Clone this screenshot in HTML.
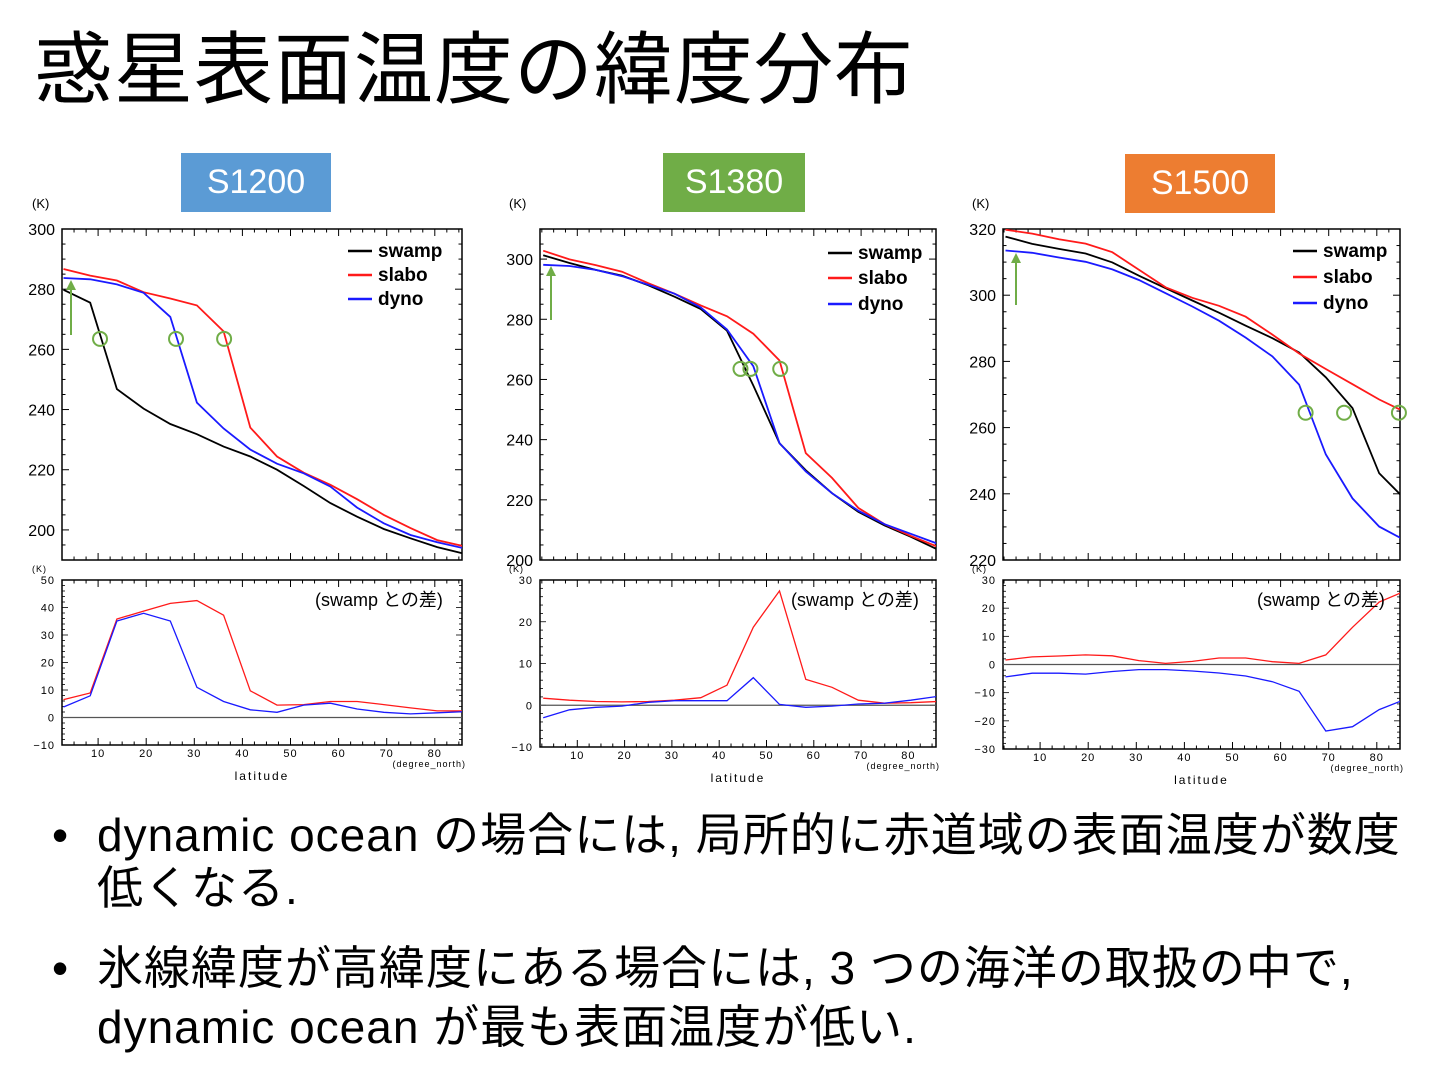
<!DOCTYPE html>
<html><head><meta charset="utf-8">
<style>
body{margin:0;background:#fff;width:1440px;height:1080px;overflow:hidden;font-family:"Liberation Sans","Noto Sans CJK JP",sans-serif;}
#title{position:absolute;left:34px;top:30px;font-size:79px;line-height:80px;color:#000;font-family:"Liberation Sans","Noto Sans CJK JP",sans-serif;white-space:nowrap;letter-spacing:1px}
.tag{position:absolute;color:#fff;font-size:34px;text-align:center;line-height:59px;height:59px}
.bl{position:absolute;left:52px;font-size:46px;line-height:46px;color:#000;white-space:nowrap;letter-spacing:1px}
.bl span.d{position:absolute;left:0}
.bl span.t{position:absolute;left:45px}
</style></head><body>
<div id="title">惑星表面温度の緯度分布</div>
<div class="tag" style="left:181px;top:153px;width:150px;background:#5b9bd5">S1200</div>
<div class="tag" style="left:663px;top:153px;width:142px;background:#70ad47">S1380</div>
<div class="tag" style="left:1125px;top:154px;width:150px;background:#ed7d31">S1500</div>
<svg id="chart" width="1440" height="1080" style="position:absolute;left:0;top:0" xmlns="http://www.w3.org/2000/svg"></svg>
<div class="bl" style="top:812px"><span class="d">•</span><span class="t">dynamic ocean の場合には, 局所的に赤道域の表面温度が数度</span></div>
<div class="bl" style="top:865px"><span class="t">低くなる.</span></div>
<div class="bl" style="top:945px"><span class="d">•</span><span class="t">氷線緯度が高緯度にある場合には, 3 つの海洋の取扱の中で,</span></div>
<div class="bl" style="top:1004px"><span class="t">dynamic ocean が最も表面温度が低い.</span></div>
<script>
const lats=[2.8,8.35,13.9,19.45,25,30.55,36.1,41.65,47.2,52.75,58.3,63.85,69.4,74.95,80.5,86.05];
const xTicks=[10,20,30,40,50,60,70,80];
const seriesNames=["swamp","slabo","dyno"];
const p1Swamp=[279.8,275.5,246.8,240.3,235.2,231.8,227.7,224.4,220,214.6,208.9,204.4,200.3,197.2,194.3,192.1];
const p1Slabo=[286.7,284.5,282.9,279,276.9,274.6,266,234,224.4,219,215,210.2,205,200.6,196.6,194.6];
const p1Dyno=[283.7,283.3,281.6,278.8,270.8,242.3,233.7,226.7,222,218.8,214.4,207.4,202.2,198.3,195.9,193.9];
const p1DiffSlabo=[6.5,8.9,35.8,38.7,41.5,42.5,37.2,9.7,4.5,4.7,5.8,5.8,4.7,3.5,2.4,2.4];
const p1DiffDyno=[3.8,7.9,35.1,37.9,35.1,11,5.8,2.8,1.9,4.5,5.2,3.1,1.9,1.3,1.7,2.1];
const p2Swamp=[301.3,298.7,296.4,294.5,291.3,287.5,283.4,276.2,258,238.8,229.8,222.2,216,211.5,207.7,203.6];
const p2Slabo=[302.8,299.9,298,295.8,292,288.5,284.6,281,275.2,266.3,235.5,227.3,217.3,211.9,208,204.5];
const p2Dyno=[298.1,297.7,296.4,294.3,291.5,288.5,283.9,276.6,264.4,238.8,229.4,222.2,216.4,211.9,208.7,205.5];
const p2DiffSlabo=[1.7,1.2,0.9,0.8,0.9,1.2,1.8,4.8,18.7,27.4,6.2,4.3,1.2,0.5,0.6,0.9];
const p2DiffDyno=[-3.0,-1.1,-0.5,-0.2,0.7,1.1,1.1,1.1,6.6,0.2,-0.5,-0.2,0.3,0.5,1.2,2.1];
const p3Swamp=[317.7,315.5,314,312.6,309.9,305.9,302.1,298.4,294.7,290.8,287,282.7,275.2,265.9,246.2,238.1];
const p3Slabo=[319.8,318.6,316.9,315.6,313,307.7,302.4,299.2,296.8,293.5,288.1,282.4,277.7,273.1,268.5,264.6];
const p3Dyno=[313.5,312.8,311.4,310.1,307.8,304.6,300.6,296.6,292.3,287.2,281.5,273,251.9,238.6,230.1,225.8];
const p3DiffSlabo=[1.6,2.7,3,3.4,3.1,1.4,0.4,1.1,2.3,2.3,1,0.4,3.4,13.2,22.2,26.2];
const p3DiffDyno=[-4.4,-3.1,-3.1,-3.4,-2.5,-1.8,-1.8,-2.3,-3,-4.1,-6.1,-9.5,-23.6,-22.1,-16,-12.3];
const p1TopTicks=[300,280,260,240,220,200];
const p2TopTicks=[300,280,260,240,220,200];
const p3TopTicks=[320,300,280,260,240,220];
const p1BotTicks=[50,40,30,20,10,0,-10];
const p2BotTicks=[30,20,10,0,-10];
const p3BotTicks=[30,20,10,0,-10,-20,-30];
const iceLat1=[10.4,26.2,36.2];
const iceLat2=[44.5,46.6,52.9];
const iceLat3=[65.2,73.2,84.6];

const NS="http://www.w3.org/2000/svg";
const svg=document.getElementById('chart');
function mk(tag,attrs,parent){const e=document.createElementNS(NS,tag);for(const k in attrs)e.setAttribute(k,attrs[k]);(parent||svg).appendChild(e);return e;}
const colors={swamp:"#000",slabo:"#ff1a1a",dyno:"#1a1aff"};

const panels=[
 {id:"p1",x0:62,x1:462,xo:50,pd:4.81,tY0:229,tY1:560,tMin:190,tMax:300,tMinor:5,tt:p1TopTicks,bY0:580,bY1:745,bMin:-10,bMax:50,bt:p1BotTicks,
  top:[p1Swamp,p1Slabo,p1Dyno],diff:[p1DiffSlabo,p1DiffDyno],ice:[[iceLat1[0]],[iceLat1[1]],[iceLat1[2]]],iceT:263.5,arrow:[71,335,280],kx:32,legX:348,legY:[251,275,299],swX:315},
 {id:"p2",x0:540,x1:936,xo:530,pd:4.73,tY0:229,tY1:560,tMin:200,tMax:310,tMinor:5,tt:p2TopTicks,bY0:580,bY1:747,bMin:-10,bMax:30,bt:p2BotTicks,
  top:[p2Swamp,p2Slabo,p2Dyno],diff:[p2DiffSlabo,p2DiffDyno],ice:[[iceLat2[0]],[iceLat2[1]],[iceLat2[2]]],iceT:263.5,arrow:[551,320,266],kx:509,legX:828,legY:[253,278,304],swX:791},
 {id:"p3",x0:1003,x1:1400,xo:992,pd:4.81,tY0:229,tY1:560,tMin:220,tMax:320,tMinor:5,tt:p3TopTicks,bY0:580,bY1:749,bMin:-30,bMax:30,bt:p3BotTicks,
  top:[p3Swamp,p3Slabo,p3Dyno],diff:[p3DiffSlabo,p3DiffDyno],ice:[[iceLat3[0]],[iceLat3[1]],[iceLat3[2]]],iceT:264.5,arrow:[1016,305,253],kx:972,legX:1293,legY:[251,277,303],swX:1257}
];

panels.forEach(p=>{
  const g=mk('g',{});
  
  
  const xs=v=>p.xo+v*p.pd;
  const ty=v=>p.tY1-(v-p.tMin)/(p.tMax-p.tMin)*(p.tY1-p.tY0);
  const by=v=>p.bY1-(v-p.bMin)/(p.bMax-p.bMin)*(p.bY1-p.bY0);
  const cid='clip'+p.id;
  const defs=mk('defs',{},g);
  const c1=mk('clipPath',{id:cid+'t'},defs);mk('rect',{x:p.x0,y:p.tY0,width:p.x1-p.x0,height:p.tY1-p.tY0},c1);
  const c2=mk('clipPath',{id:cid+'b'},defs);mk('rect',{x:p.x0,y:p.bY0,width:p.x1-p.x0,height:p.bY1-p.bY0},c2);
  [[p.tY0,p.tY1],[p.bY0,p.bY1]].forEach(([a,b],k)=>{
    const r=mk('rect',{x:p.x0,y:a,width:p.x1-p.x0,height:b-a,fill:'none',stroke:'#000','stroke-width':1.5},g);
    
    
    for(let l=0;l<=90;l+=2.5){const x=xs(l);if(x<=p.x0||x>=p.x1)continue;const len=(l%10===0)?7:3.5;
      mk('line',{x1:x,x2:x,y1:a,y2:a+len,stroke:'#000','stroke-width':1},g);mk('line',{x1:x,x2:x,y1:b,y2:b-len,stroke:'#000','stroke-width':1},g);}
  });
  for(let v=p.tMin;v<=p.tMax;v+=p.tMinor){const y=ty(v);const len=(v%20===0)?7:3.5;
    mk('line',{x1:p.x0,x2:p.x0+len,y1:y,y2:y,stroke:'#000'},g);mk('line',{x1:p.x1,x2:p.x1-len,y1:y,y2:y,stroke:'#000'},g);}
  p.tt.forEach(v=>{const t=mk('text',{x:p.x0-7,y:ty(v)+6,'text-anchor':'end','font-size':16,fill:'#000'},g);t.textContent=v;
    });
  for(let v=p.bMin;v<=p.bMax;v+=2){const y=by(v);const len=(v%10===0)?6:3;
    mk('line',{x1:p.x0,x2:p.x0+len,y1:y,y2:y,stroke:'#000','stroke-width':0.8},g);mk('line',{x1:p.x1,x2:p.x1-len,y1:y,y2:y,stroke:'#000','stroke-width':0.8},g);}
  p.bt.forEach(v=>{const t=mk('text',{x:p.x0-7,y:by(v)+4,'text-anchor':'end','font-size':11,'letter-spacing':1,fill:'#000'},g);t.textContent=(v<0?'−':'')+Math.abs(v);
    });
  xTicks.forEach(v=>{const t=mk('text',{x:xs(v),y:p.bY1+12,'text-anchor':'middle','font-size':11,'letter-spacing':1,fill:'#000'},g);t.textContent=v;
    });
  let t=mk('text',{x:p.kx,y:208,'font-size':13,fill:'#000'},g);t.textContent='(K)';
  
  t=mk('text',{x:p.kx,y:572,'font-size':9,fill:'#000','letter-spacing':1},g);t.textContent='(K)';
  
  t=mk('text',{x:(p.x0+p.x1)/2,y:p.bY1+35,'text-anchor':'middle','font-size':12,'letter-spacing':2,fill:'#000'},g);t.textContent='latitude';
  
  t=mk('text',{x:p.x1+4,y:p.bY1+22,'text-anchor':'end','font-size':9,'letter-spacing':1,fill:'#000'},g);t.textContent='(degree_north)';
  
  const z=mk('line',{x1:p.x0,x2:p.x1,y1:by(0),y2:by(0),stroke:'#555','stroke-width':1.2},g);
  
  p.top.forEach((arr,k)=>{const d=arr.map((v,i)=>(i?'L':'M')+xs(lats[i]).toFixed(1)+','+ty(v).toFixed(1)).join('');
    const pa=mk('path',{d:d,fill:'none',stroke:colors[seriesNames[k]],'stroke-width':1.8,'clip-path':'url(#'+cid+'t)'},g);
    });
  p.diff.forEach((arr,k)=>{const d=arr.map((v,i)=>(i?'L':'M')+xs(lats[i]).toFixed(1)+','+by(v).toFixed(1)).join('');
    const pa=mk('path',{d:d,fill:'none',stroke:colors[seriesNames[k+1]],'stroke-width':1.3,'clip-path':'url(#'+cid+'b)'},g);
    });
  seriesNames.forEach((n,k)=>{const y=p.legY[k];
    const l=mk('line',{x1:p.legX,x2:p.legX+24,y1:y,y2:y,stroke:colors[n],'stroke-width':2.5},g);
    
    const tx=mk('text',{x:p.legX+30,y:y+6,'font-size':19,'font-weight':'bold',fill:'#000'},g);tx.textContent=n;
    });
  t=mk('text',{x:p.swX,y:606,'font-size':18,fill:'#000'},g);t.textContent='(swamp との差)';
  
  p.ice.forEach(ic=>{const c=mk('circle',{cx:xs(ic[0]),cy:ty(p.iceT),r:7,fill:'none',stroke:'#70ad47','stroke-width':2},g);
    });
  const [ax,ay1,ay2]=p.arrow;
  const ar=mk('line',{x1:ax,x2:ax,y1:ay1,y2:ay2+8,stroke:'#70ad47','stroke-width':2},g);
  
  mk('polygon',{points:`${ax-5},${ay2+10} ${ax+5},${ay2+10} ${ax},${ay2}`,fill:'#70ad47'},g);
});
</script>
</body></html>
